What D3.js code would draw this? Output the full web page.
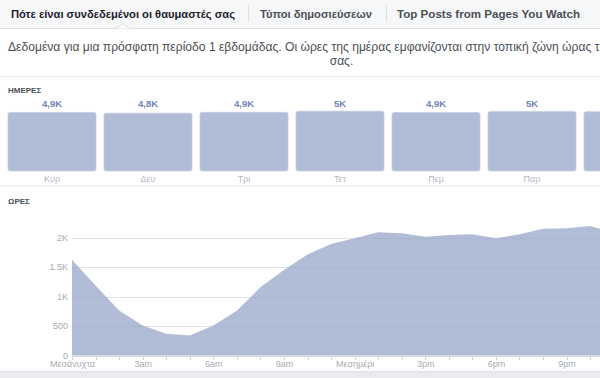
<!DOCTYPE html>
<meta charset="utf-8">
<head>
<style>
  body { margin: 0; background: #fff; }
  svg { display: block; font-family: "Liberation Sans", Arial, sans-serif; }
  .axis path, .axis line { fill: none; stroke: #d3d7de; shape-rendering: crispEdges; }
  .axis text { fill: #a7abb1; font-size: 9px; }
</style>
</head>
<body>
<script src="https://cdnjs.cloudflare.com/ajax/libs/d3/7.8.5/d3.min.js"></script>
<script>

// data
var tabs = ["Πότε είναι συνδεδεμένοι οι θαυμαστές σας", "Τύποι δημοσιεύσεων", "Top Posts from Pages You Watch"];
var days = ["Κυρ", "Δευ", "Τρι", "Τετ", "Πεμ", "Παρ", "Σαβ"];
var dayValues = [4900, 4840, 4910, 5010, 4890, 4990, 4960];
var hours = d3.range(24);
var hourValues = [1630, 1190, 765, 510, 370, 340, 510, 760, 1160, 1456, 1720, 1898,
                  1995, 2097, 2080, 2022, 2051, 2063, 1995, 2063, 2158, 2165, 2204, 2090];
var hourTicks = [0, 500, 1000, 1500, 2000];
var hourTickLabels = ["0", "500", "1K", "1.5K", "2K"];
var hourLabels = ["Μεσάνυχτα", "3am", "6am", "9am", "Μεσημέρι", "3pm", "6pm", "9pm"];

var W = 600, H = 378;
var fillColor = "#b1bcd7";

var svg = d3.select("body").append("svg")
    .attr("width", W)
    .attr("height", H);

// tab bar
svg.append("rect").attr("width", W).attr("height", 28).attr("fill", "#f6f7f9");
svg.append("line").attr("x1", 0).attr("x2", W).attr("y1", 28.5).attr("y2", 28.5)
    .attr("stroke", "#dddfe2");
svg.append("path").attr("d", "M116,28.5 L123,23.5 L130,28.5 Z")
    .attr("fill", "#fff").attr("stroke", "none");
svg.append("path").attr("d", "M116,28.5 L123,23.5 L130,28.5")
    .attr("fill", "none").attr("stroke", "#dddfe2");

var tabX = [11, 260, 397];
var tabW = [224, 112, 183];
svg.selectAll(".tab")
    .data(tabs)
    .enter().append("text")
    .attr("class", "tab")
    .attr("x", function(d, i) { return tabX[i]; })
    .attr("y", 18)
    .attr("font-size", "11.5px")
    .attr("font-weight", "bold")
    .attr("textLength", function(d, i) { return tabW[i]; })
    .attr("lengthAdjust", "spacingAndGlyphs")
    .attr("fill", function(d, i) { return i == 0 ? "#1d2129" : "#4b4f56"; })
    .text(function(d) { return d; });

[248.5, 386.5].forEach(function(x) {
  svg.append("line").attr("x1", x).attr("x2", x).attr("y1", 5).attr("y2", 22)
      .attr("stroke", "#dddfe2");
});

// description
svg.append("text")
    .attr("x", 8).attr("y", 51)
    .attr("font-size", "12px").attr("fill", "#4b4f56")
    .attr("textLength", 604)
    .attr("lengthAdjust", "spacingAndGlyphs")
    .text("Δεδομένα για μια πρόσφατη περίοδο 1 εβδομάδας. Οι ώρες της ημέρας εμφανίζονται στην τοπική ζώνη ώρας της");
svg.append("text")
    .attr("x", 341.5).attr("y", 65)
    .attr("text-anchor", "middle")
    .attr("font-size", "12px").attr("fill", "#4b4f56")
    .text("σας.");

svg.append("line").attr("x1", 0).attr("x2", W).attr("y1", 76.5).attr("y2", 76.5)
    .attr("stroke", "#e5e6e9");

// days
svg.append("text").attr("x", 8).attr("y", 93)
    .attr("font-size", "8px").attr("font-weight", "bold").attr("fill", "#4b4f56")
    .text("ΗΜΕΡΕΣ");

var xDay = d3.scaleBand()
    .domain(days)
    .range([4, 676])
    .paddingInner(8 / 96)
    .paddingOuter(4 / 96);

var yDay = d3.scaleLinear()
    .domain([0, 5000])
    .range([171, 111.3]);

var fmtK = function(v) { return (Math.round(v / 100) / 10).toString().replace(".", ",") + "K"; };

svg.selectAll(".day")
    .data(days)
    .enter().append("rect")
    .attr("class", "day")
    .attr("x", function(d) { return xDay(d); })
    .attr("y", function(d, i) { return yDay(dayValues[i]); })
    .attr("width", xDay.bandwidth())
    .attr("height", function(d, i) { return yDay(0) - yDay(dayValues[i]); })
    .attr("rx", 2)
    .attr("fill", fillColor)
    .attr("stroke", "#c3cbe0")
    .attr("stroke-width", 0.8);

svg.selectAll(".dayval")
    .data(days)
    .enter().append("text")
    .attr("x", function(d) { return xDay(d) + xDay.bandwidth() / 2; })
    .attr("y", 106.5)
    .attr("text-anchor", "middle")
    .attr("font-size", "9.5px").attr("font-weight", "bold").attr("fill", "#7083b3")
    .text(function(d, i) { return fmtK(dayValues[i]); });

svg.selectAll(".daylab")
    .data(days)
    .enter().append("text")
    .attr("x", function(d) { return xDay(d) + xDay.bandwidth() / 2; })
    .attr("y", 182)
    .attr("text-anchor", "middle")
    .attr("font-size", "9px").attr("fill", "#b4b8bf")
    .text(function(d) { return d; });

svg.append("line").attr("x1", 0).attr("x2", W).attr("y1", 186).attr("y2", 186)
    .attr("stroke", "#e5e6e9");

// hours
svg.append("text").attr("x", 8).attr("y", 204)
    .attr("font-size", "8px").attr("font-weight", "bold").attr("fill", "#4b4f56")
    .text("ΩΡΕΣ");

var x = d3.scaleLinear().domain([0, 23]).range([72, 72 + 23 * 23.55]);
var y = d3.scaleLinear().domain([0, 2000]).range([355.5, 238]);

var grid = svg.append("g");
grid.selectAll("line")
    .data(hourTicks.slice(1))
    .enter().append("line")
    .attr("x1", 72).attr("x2", W)
    .attr("y1", function(d) { return Math.round(y(d)) + 0.5; })
    .attr("y2", function(d) { return Math.round(y(d)) + 0.5; })
    .attr("stroke", "#eef0f3");

var area = d3.area()
    .x(function(d) { return x(d); })
    .y0(y(0))
    .y1(function(d) { return y(hourValues[d]); });

svg.append("path")
    .datum(hours)
    .attr("d", area)
    .attr("fill", fillColor);

// gridlines faintly visible through the area
svg.append("g").selectAll("line")
    .data(hourTicks.slice(1))
    .enter().append("line")
    .attr("x1", 72).attr("x2", W)
    .attr("y1", function(d) { return Math.round(y(d)) + 0.5; })
    .attr("y2", function(d) { return Math.round(y(d)) + 0.5; })
    .attr("stroke", "rgba(60,80,130,0.07)");

svg.selectAll(".ytick")
    .data(hourTicks)
    .enter().append("text")
    .attr("x", 68)
    .attr("y", function(d) { return y(d) + 3; })
    .attr("text-anchor", "end")
    .attr("font-size", "9px").attr("fill", "#a7abb1")
    .text(function(d, i) { return hourTickLabels[i]; });

var xAxis = d3.axisBottom(x)
    .tickValues(hours)
    .tickSize(4)
    .tickSizeOuter(0)
    .tickFormat(function(d) { return d % 3 == 0 ? hourLabels[d / 3] : ""; });

var gx = svg.append("g")
    .attr("class", "axis")
    .attr("transform", "translate(0," + Math.round(y(0)) + ")")
    .call(xAxis);
gx.selectAll("text").attr("dy", "0.5em").attr("y", 6.5);

// bottom band
svg.append("rect").attr("x", 0).attr("y", 372).attr("width", W).attr("height", 6)
    .attr("fill", "#e9ebee");
svg.append("line").attr("x1", 0).attr("x2", W).attr("y1", 371.5).attr("y2", 371.5)
    .attr("stroke", "#dddfe2");

</script>
</body>
